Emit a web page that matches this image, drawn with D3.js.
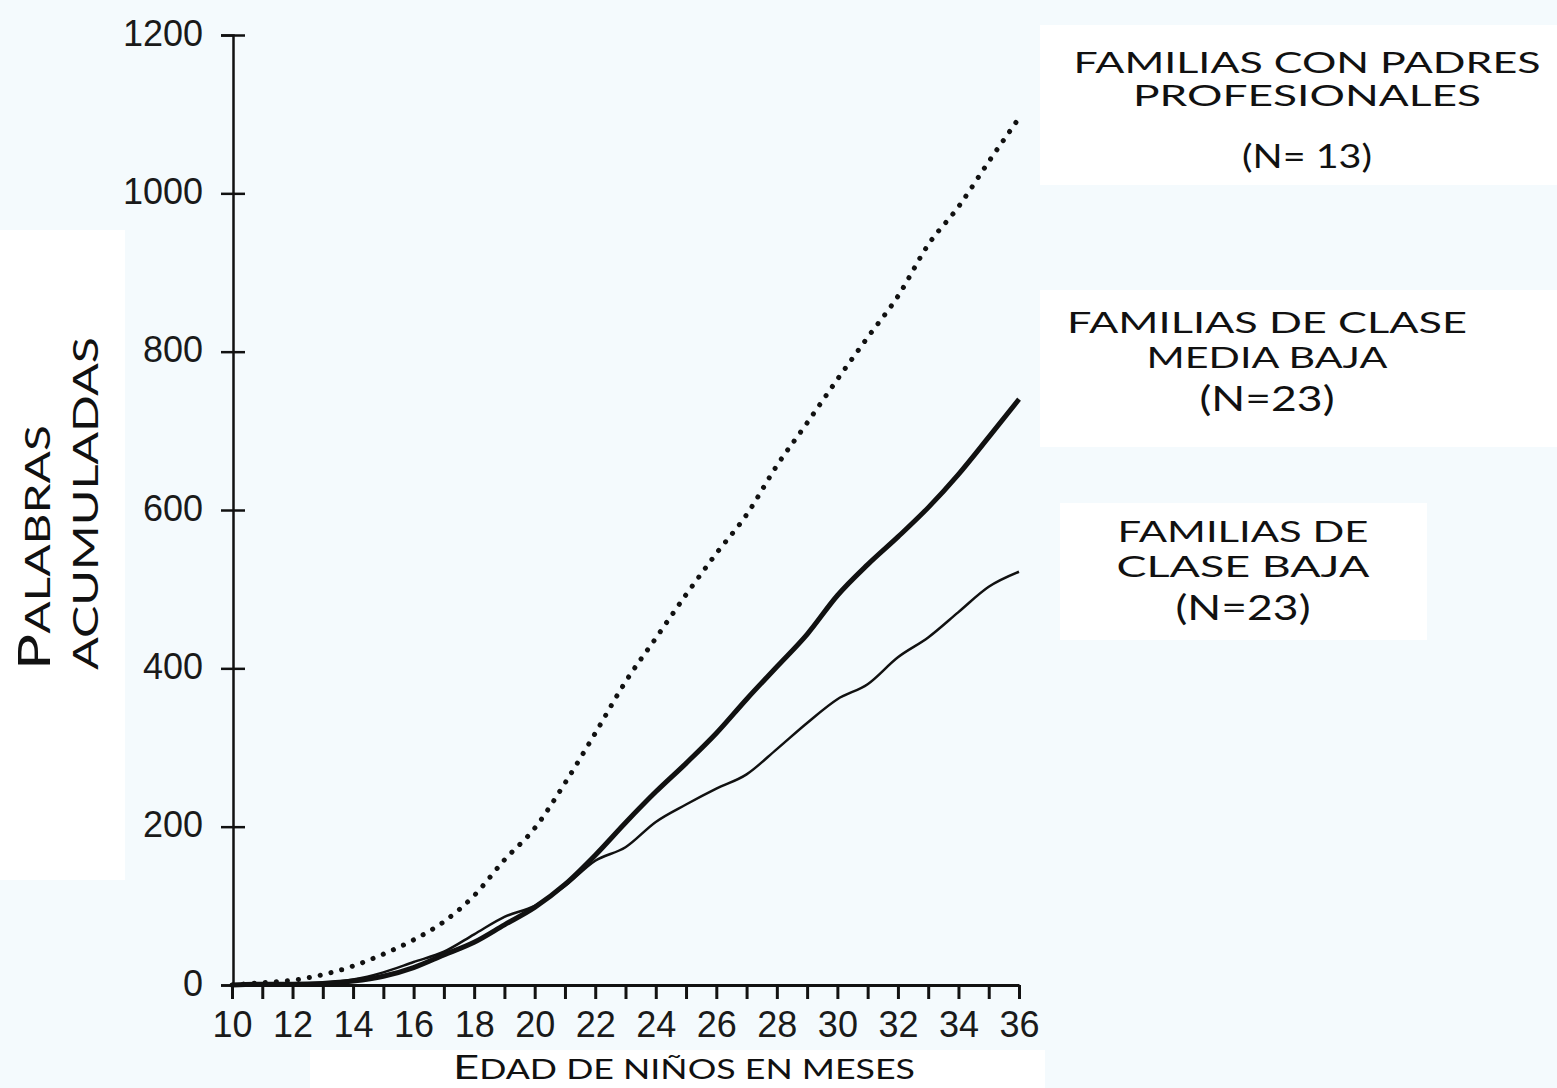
<!DOCTYPE html>
<html>
<head>
<meta charset="utf-8">
<script src="https://cdn.jsdelivr.net/npm/d3@7"></script>
<style>
  body { margin: 0; background: #f4fafd; }
  svg { display: block; }
  .tick text { font-family: "Liberation Sans", Arial, sans-serif; font-size: 36px; fill: #1a1a1a; }
  .label { font-family: Lato, "DejaVu Sans", sans-serif; fill: #111; }
</style>
</head>
<body>
<div id="chart"></div>
<script>
// months on the x axis
let months = [10, 11, 12, 13, 14, 15, 16, 17, 18, 19, 20, 21, 22, 23, 24, 25, 26, 27, 28, 29, 30, 31, 32, 33, 34, 35, 36]

// cumulative words per group
let profesionales = [0, 3, 6, 13, 24, 39, 57, 80, 113, 158, 198, 255, 318, 383, 438, 493, 545, 594, 656, 710, 765, 818, 870, 935, 983, 1040, 1095]
let mediaBaja = [0, 1, 1, 2, 5, 11, 22, 38, 54, 76, 98, 127, 164, 205, 244, 280, 318, 361, 402, 443, 492, 531, 566, 603, 645, 692, 740]
let claseBaja = [0, 1, 2, 3, 7, 16, 29, 42, 64, 86, 100, 125, 157, 174, 206, 228, 248, 266, 298, 331, 361, 380, 414, 439, 471, 503, 522]

let yTicks = [0, 200, 400, 600, 800, 1000, 1200]

let groupLabels = [
  { lines: ['FAMILIAS CON PADRES', 'PROFESIONALES', '(N= 13)'] },
  { lines: ['FAMILIAS DE CLASE', 'MEDIA BAJA', '(N=23)'] },
  { lines: ['FAMILIAS DE', 'CLASE BAJA', '(N=23)'] }
]

let width = 1557
let height = 1088

let svg = d3
  .select('#chart')
  .append('svg')
  .attr('width', width)
  .attr('height', height)

// white patches behind the texts, like the pasted labels in the original
let patches = [
  [0, 230, 125, 650],
  [310, 1050, 735, 38],
  [1040, 25, 517, 160],
  [1040, 290, 517, 157],
  [1060, 503, 367, 137]
]
svg
  .selectAll('.patch')
  .data(patches)
  .enter()
  .append('rect')
  .attr('x', d => d[0])
  .attr('y', d => d[1])
  .attr('width', d => d[2])
  .attr('height', d => d[3])
  .attr('fill', '#ffffff')

let xScale = d3.scaleLinear().domain([10, 36]).range([232, 1019])
let yScale = d3.scaleLinear().domain([0, 1200]).range([985, 35])

// y axis with ticks crossing the line
let yAxis = svg
  .append('g')
  .attr('transform', 'translate(233,0)')
  .call(
    d3.axisLeft(yScale)
      .tickValues(yTicks)
      .tickSize(12)
      .tickPadding(18)
      .tickFormat(d3.format('d'))
  )
yAxis.select('.domain').attr('stroke', '#111').attr('stroke-width', 2.5)
yAxis.selectAll('.tick line').attr('x1', 12).attr('stroke', '#111').attr('stroke-width', 2.5)
yAxis.selectAll('.tick text').attr('dy', '0.28em')

// x axis, one tick per month, labels on even months
let xAxis = svg
  .append('g')
  .attr('transform', 'translate(0,985)')
  .call(
    d3.axisBottom(xScale)
      .tickValues(months)
      .tickSize(14)
      .tickSizeOuter(0)
      .tickPadding(12)
      .tickFormat(d => (d % 2 === 0 ? d : ''))
  )
xAxis.select('.domain').attr('stroke', '#111').attr('stroke-width', 3)
xAxis.selectAll('.tick line').attr('stroke', '#111').attr('stroke-width', 3)

let line = d3
  .line()
  .x((d, i) => xScale(months[i]))
  .y(d => yScale(d))
  .curve(d3.curveMonotoneX)

svg
  .append('path')
  .datum(claseBaja)
  .attr('d', line)
  .attr('fill', 'none')
  .attr('stroke', '#111')
  .attr('stroke-width', 2.5)

svg
  .append('path')
  .datum(mediaBaja)
  .attr('d', line)
  .attr('fill', 'none')
  .attr('stroke', '#111')
  .attr('stroke-width', 5)

svg
  .append('path')
  .datum(profesionales)
  .attr('d', line)
  .attr('fill', 'none')
  .attr('stroke', '#111')
  .attr('stroke-width', 5)
  .attr('stroke-linecap', 'round')
  .attr('stroke-dasharray', '0.1,11')

// group labels on the right
let labelPos = [
  { cx: 1307, base: [73, 106, 168], len: [467, 348, 130], size: [28, 28, 32] },
  { cx: 1267, base: [333, 368, 411], len: [400, 241, 135], size: [29, 29, 34] },
  { cx: 1243, base: [542, 577, 620], len: [251, 253, 135], size: [29, 29, 34] }
]

groupLabels.forEach((g, gi) => {
  let p = labelPos[gi]
  g.lines.forEach((txt, li) => {
    svg
      .append('text')
      .attr('class', 'label')
      .attr('x', p.cx)
      .attr('y', p.base[li])
      .attr('text-anchor', 'middle')
      .attr('font-size', p.size[li])
      .attr('textLength', p.len[li])
      .attr('lengthAdjust', 'spacingAndGlyphs')
      .text(txt)
  })
})

// axis titles in small caps
let xTitle = svg
  .append('text')
  .attr('class', 'label')
  .attr('x', 453)
  .attr('y', 1079)
  .attr('textLength', 462)
  .attr('lengthAdjust', 'spacingAndGlyphs')
xTitle.append('tspan').attr('font-size', 33).text('E')
xTitle.append('tspan').attr('font-size', 26).text('DAD DE NIÑOS EN MESES')

let yTitle1 = svg
  .append('text')
  .attr('class', 'label')
  .attr('transform', 'translate(50,670) rotate(-90)')
  .attr('textLength', 245)
  .attr('lengthAdjust', 'spacingAndGlyphs')
yTitle1.append('tspan').attr('font-size', 44).text('P')
yTitle1.append('tspan').attr('font-size', 35).text('ALABRAS')

svg
  .append('text')
  .attr('class', 'label')
  .attr('transform', 'translate(98,670) rotate(-90)')
  .attr('font-size', 35)
  .attr('textLength', 333)
  .attr('lengthAdjust', 'spacingAndGlyphs')
  .text('ACUMULADAS')
</script>
</body>
</html>
